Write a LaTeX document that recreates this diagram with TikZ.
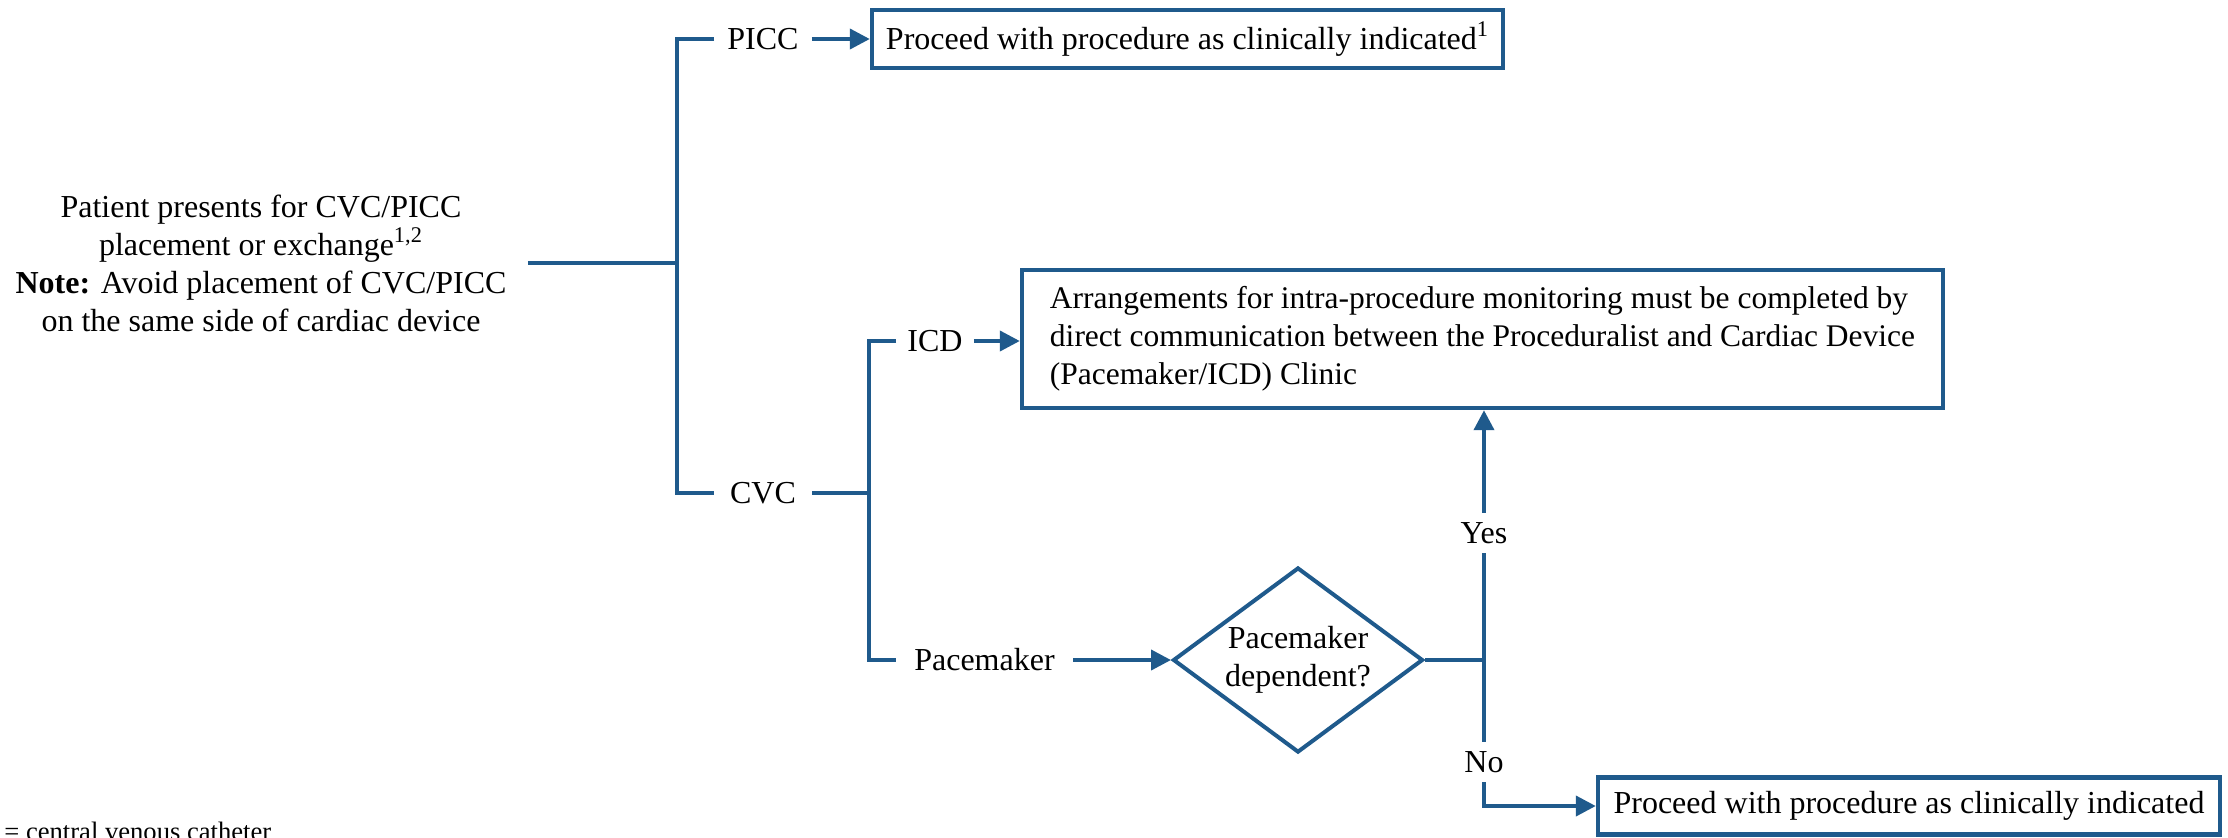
\documentclass[tikz,border=0pt]{standalone}
\usepackage{fontspec}
\setmainfont{Liberation Serif}
\usetikzlibrary{shapes.geometric,arrows.meta}
\definecolor{fb}{RGB}{31,90,140}
\begin{document}
\begin{tikzpicture}[x=0.5pt,y=-0.5pt,
  every node/.style={font=\fontsize{16}{19}\selectfont},
  ln/.style={draw=fb,line width=2pt},
  arr/.style={ln,-{Triangle[length=10pt,width=10pt]}},
  box/.style={draw=fb,line width=2.2pt,inner sep=0pt},
  lbl/.style={inner xsep=7pt,inner ysep=0pt,minimum height=20pt},
  vlbl/.style={inner xsep=0pt,inner ysep=0pt,minimum height=20pt},
]
\useasboundingbox (0,0) rectangle (2228,837);

\node[align=center, inner xsep=10.5pt] (start) at (261,263) {Patient presents for CVC/PICC\\placement or exchange\textsuperscript{1,2}\\\textbf{Note:} Avoid placement of CVC/PICC\\on the same side of cardiac device};

\node[box, minimum width=315.5pt, minimum height=29pt] (b1) at (1187.5,39) {Proceed with procedure as clinically indicated\textsuperscript{1}};

\node[lbl,inner xsep=6.5pt] (picc) at (763,39) {PICC};
\node[lbl,inner xsep=8pt] (cvc) at (763,493) {CVC};
\coordinate (j1) at (677,263);
\draw[ln] (start.east) -- (j1);
\draw[ln] (picc.west) -| (j1) |- (cvc.west);
\draw[arr] (picc.east) -- (b1.west);

\coordinate (j2) at (869,493);
\draw[ln] (cvc.east) -- (j2);
\node[lbl,inner xsep=5.5pt] (icd) at (935,341) {ICD};
\node[lbl,inner xsep=9pt] (pm) at (984.5,660) {Pacemaker};
\draw[ln] (icd.west) -| (j2) |- (pm.west);

\node[box, font=\fontsize{15.75}{19}\selectfont, minimum width=460.5pt, minimum height=69pt, align=left] (b2) at (1482.5,339) {Arrangements for intra-procedure monitoring must be completed by\\direct communication between the Proceduralist and Cardiac Device\\(Pacemaker/ICD) Clinic};
\draw[arr] (icd.east) -- (icd.east -| b2.west);

\node[draw=fb, line width=2pt, diamond, aspect=1.35, minimum width=125pt, minimum height=92.5pt, inner sep=0pt, align=center] (dia) at (1298,660) {Pacemaker\\dependent?};
\draw[arr] (pm.east) -- (dia.west);

\coordinate (j3) at (1484,660);
\draw[ln] (dia.east) -- (j3);
\node[vlbl] (yes) at (1484,533) {Yes};
\node[vlbl] (no) at (1484,762) {No};
\draw[ln] (j3) -- (yes.south);
\draw[ln] (j3) -- (no.north);
\draw[arr] (yes.north) -- (yes.north |- b2.south);

\node[box, minimum width=311pt, minimum height=28.5pt] (b3) at (1909,806) {Proceed with procedure as clinically indicated};
\draw[arr] (no.south) |- (b3.west);

\node[anchor=base west, inner sep=0pt, font=\fontsize{13.3}{16}\selectfont] (foot) at (4,840) {= central venous catheter};
\end{tikzpicture}
\end{document}
